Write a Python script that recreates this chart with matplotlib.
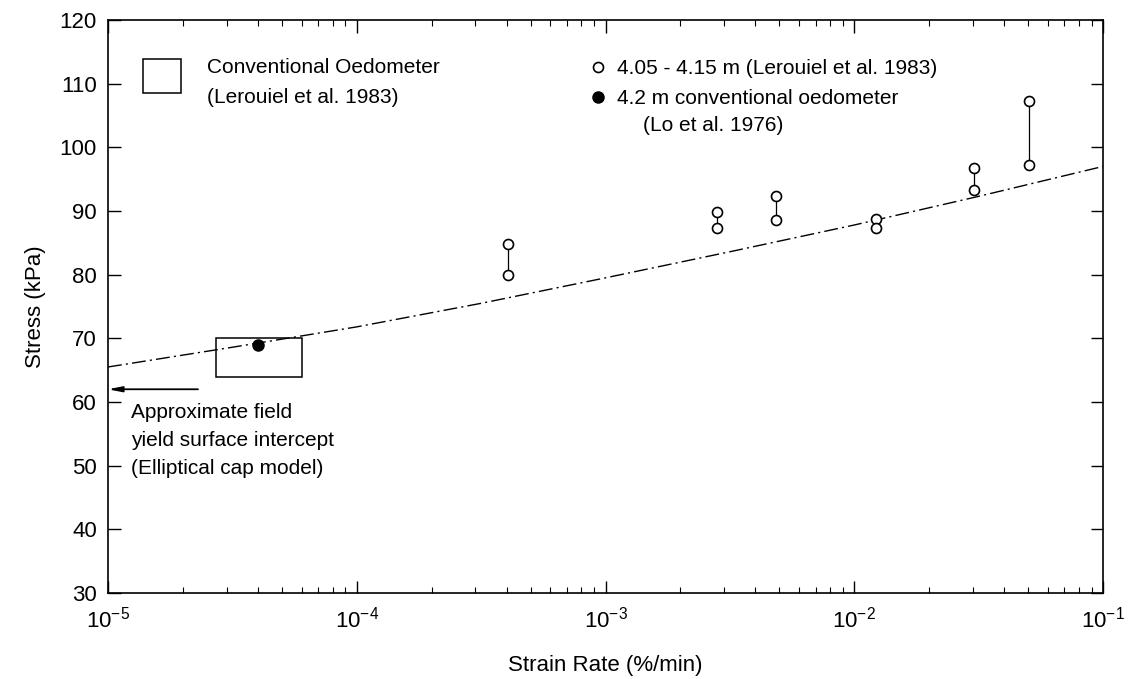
import matplotlib
matplotlib.use("Agg")
import matplotlib.pyplot as plt
from matplotlib.patches import Rectangle
import numpy as np

plt.rcParams['font.family'] = ['Liberation Sans', 'DejaVu Sans']
plt.rcParams['mathtext.fontset'] = 'custom'
plt.rcParams['mathtext.rm'] = 'Liberation Sans'
plt.rcParams['mathtext.it'] = 'Liberation Sans:italic'

# ---- data ----
pair_rate = [4.04e-4, 2.8e-3, 4.83e-3, 0.0122, 0.0303, 0.0503]
pair_high = [84.8, 89.8, 92.3, 88.7, 96.8, 107.2]
pair_low = [79.9, 87.4, 88.6, 87.3, 93.3, 97.3]

lo_rate = [4.0e-5]
lo_stress = [69.0]

box_rate = [2.71e-5, 6.05e-5]
box_stress = [64.0, 70.0]

curve_rate = [1e-5, 10**-4.5, 1e-4, 10**-3.5, 1e-3, 10**-2.5, 1e-2, 10**-1.5, 1e-1]
curve_stress = [65.5, 68.6, 71.8, 75.5, 79.5, 83.6, 87.8, 92.3, 97.0]

field_rate = [2.3e-5, 1e-5]
field_stress = 62.0

xticks = [1e-5, 1e-4, 1e-3, 1e-2, 1e-1]
xtick_labels = [r'$\mathregular{10^{-5}}$', r'$\mathregular{10^{-4}}$', r'$\mathregular{10^{-3}}$',
                r'$\mathregular{10^{-2}}$', r'$\mathregular{10^{-1}}$']
yticks = [30, 40, 50, 60, 70, 80, 90, 100, 110, 120]

# ---- figure ----
W, H = 1129, 679
fig = plt.figure(figsize=(W / 100, H / 100), dpi=100)
L, R, T, B = 108, 1103, 20, 593
ax = fig.add_axes([L / W, 1 - B / H, (R - L) / W, (B - T) / H])

def ax_frac(px, py):
    return (px - L) / (R - L), (B - py) / (B - T)

ax.set_xscale('log')
ax.set_xlim(1e-5, 1e-1)
ax.set_ylim(30, 120)

# curve
ax.plot(curve_rate, curve_stress, color='black', lw=1.0, dashes=(10, 3, 1.5, 3))

# conventional oedometer box
ax.add_patch(Rectangle((box_rate[0], box_stress[0]), box_rate[1] - box_rate[0],
                       box_stress[1] - box_stress[0], fill=False, ec='black', lw=1.1))

# pairs
for xr, yh, yl in zip(pair_rate, pair_high, pair_low):
    ax.plot([xr, xr], [yl, yh], color='black', lw=0.9, zorder=2)
ax.plot(pair_rate, pair_high, 'o', ms=7.2, mfc='white', mec='black', mew=1.2, zorder=3)
ax.plot(pair_rate, pair_low, 'o', ms=7.2, mfc='white', mec='black', mew=1.2, zorder=3)

# Lo et al point
ax.plot(lo_rate, lo_stress, 'o', ms=8, mfc='black', mec='black', zorder=3)

# field arrow
ax.annotate('', xy=(field_rate[1], field_stress), xytext=(field_rate[0], field_stress),
            arrowprops=dict(arrowstyle='-|>,head_length=0.8,head_width=0.16',
                            color='black', lw=1.3, shrinkA=0, shrinkB=0))

fs_leg = 15
# left legend
x0, y0 = ax_frac(143, 93)
x1, y1 = ax_frac(181, 59)
ax.add_patch(Rectangle((x0, y0), x1 - x0, y1 - y0, transform=ax.transAxes,
                       fill=False, ec='black', lw=1.1))
tx, ty = ax_frac(207, 73)
ax.text(tx, ty, 'Conventional Oedometer', transform=ax.transAxes, fontsize=fs_leg, va='baseline')
tx, ty = ax_frac(207, 103)
ax.text(tx, ty, '(Lerouiel et al. 1983)', transform=ax.transAxes, fontsize=fs_leg, va='baseline')

# right legend
mx, my = ax_frac(598, 67)
ax.plot([mx], [my], 'o', transform=ax.transAxes, ms=7.2, mfc='white', mec='black', mew=1.2, clip_on=False)
mx, my = ax_frac(598, 97)
ax.plot([mx], [my], 'o', transform=ax.transAxes, ms=8, mfc='black', mec='black', clip_on=False)
tx, ty = ax_frac(617, 74)
ax.text(tx, ty, '4.05 - 4.15 m (Lerouiel et al. 1983)', transform=ax.transAxes, fontsize=fs_leg, va='baseline')
tx, ty = ax_frac(617, 104)
ax.text(tx, ty, '4.2 m conventional oedometer', transform=ax.transAxes, fontsize=fs_leg, va='baseline')
tx, ty = ax_frac(643, 131)
ax.text(tx, ty, '(Lo et al. 1976)', transform=ax.transAxes, fontsize=fs_leg, va='baseline')

# field annotation
for i, s in enumerate(['Approximate field', 'yield surface intercept', '(Elliptical cap model)']):
    tx, ty = ax_frac(131, 418 + 28 * i)
    ax.text(tx, ty, s, transform=ax.transAxes, fontsize=fs_leg, va='baseline')

# axes styling
ax.set_xticks(xticks)
ax.set_xticklabels(xtick_labels)
ax.set_yticks(yticks)
ax.tick_params(which='both', direction='in', top=True, right=True, labelsize=16)
ax.tick_params(which='major', length=9, width=1.0, pad=8)
ax.tick_params(which='minor', length=4.5, width=0.8)
ax.tick_params(axis='x', which='major', pad=10)
for sp in ax.spines.values():
    sp.set_linewidth(1.2)

ax.set_xlabel('Strain Rate (%/min)', fontsize=16, labelpad=16)
ax.set_ylabel('Stress (kPa)', fontsize=16, labelpad=10)

fig.savefig('out.png', dpi=100)
